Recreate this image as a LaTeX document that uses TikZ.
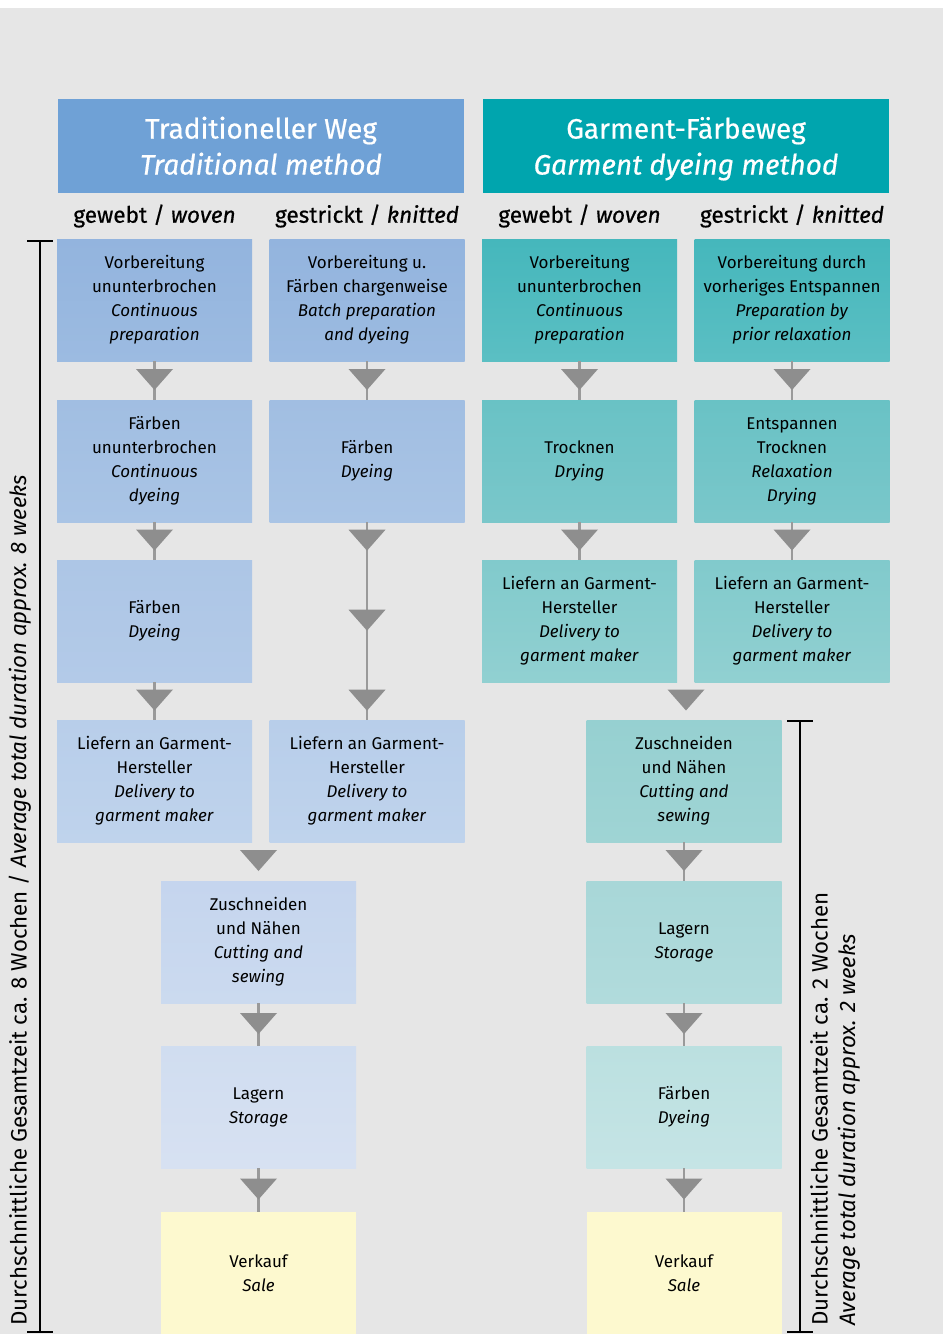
\documentclass[tikz,border=0pt]{standalone}
\usepackage{fontspec}
\setmainfont{Fira Sans}
\newfontfamily\condfont{Fira Sans}
\newfontfamily\medfont[FakeBold=0.6]{Fira Sans}
\usetikzlibrary{decorations.markings,calc}
\definecolor{bggray}{HTML}{E6E6E6}
\definecolor{hdrblue}{HTML}{6FA1D6}
\definecolor{hdrteal}{HTML}{00A5AE}
\definecolor{arrgray}{HTML}{8E8E8E}
\definecolor{linegray}{HTML}{9A9A9A}
\definecolor{Latop}{HTML}{93B4DE}\definecolor{Labot}{HTML}{9CBBE1}
\definecolor{Lbtop}{HTML}{A1BEE2}\definecolor{Lbbot}{HTML}{A9C4E5}
\definecolor{Lctop}{HTML}{ADC6E6}\definecolor{Lcbot}{HTML}{B3CAE8}
\definecolor{Ldtop}{HTML}{B8CEEA}\definecolor{Ldbot}{HTML}{BFD3EC}
\definecolor{Letop}{HTML}{C5D5EE}\definecolor{Lebot}{HTML}{CBDAEF}
\definecolor{Lftop}{HTML}{D0DDF0}\definecolor{Lfbot}{HTML}{D7E1F2}
\definecolor{Ratop}{HTML}{45B7BC}\definecolor{Rabot}{HTML}{5BBFC3}
\definecolor{Rbtop}{HTML}{69C2C5}\definecolor{Rbbot}{HTML}{7AC7CA}
\definecolor{Rctop}{HTML}{81CACC}\definecolor{Rcbot}{HTML}{91D0D1}
\definecolor{Rdtop}{HTML}{96D0D1}\definecolor{Rdbot}{HTML}{9FD4D4}
\definecolor{Retop}{HTML}{A8D7D8}\definecolor{Rebot}{HTML}{B1DBDC}
\definecolor{Rftop}{HTML}{BBE0E0}\definecolor{Rfbot}{HTML}{C5E4E5}
\definecolor{sale}{HTML}{FDF9CF}
\newcommand\arrtri{\fill[arrgray] (-11.5,-18.5) -- (-11.5,18.5) -- (9.5,0) -- cycle;}
\newcommand\hstrut{\rule{0pt}{26pt}}
\newcommand\dstrut{\rule[-9pt]{0pt}{9pt}}
\tikzset{
  box/.style={minimum width=195pt, minimum height=122pt, inner sep=0pt, align=center,
    font=\fontsize{17}{24}\selectfont, text=black},
  sh/.style 2 args={top color=#1, bottom color=#2},
  hdrtext/.style={align=center, text=white, font=\medfont\fontsize{28}{36}\selectfont, inner sep=0pt},
  sub/.style={inner sep=0pt, font=\medfont\fontsize{22.6}{28}\selectfont, text=black},
  flow/.style={draw=linegray, line width=2.3pt, postaction={decorate},
    decoration={markings, mark=at position 0.5 with {\arrtri}}},
  flowthree/.style={draw=linegray, line width=2.3pt, postaction={decorate},
    decoration={markings, mark=at position 19pt with {\arrtri},
      mark=at position 99pt with {\arrtri}, mark=at position 179pt with {\arrtri}}},
  merge/.style={postaction={decorate},
    decoration={markings, mark=at position 0.5 with {\arrtri}}},
  bracket/.style={draw=black, line width=2.6pt},
  side/.style={rotate=90, anchor=west, inner sep=0pt, font=\condfont\fontsize{22.3}{26}\selectfont}
}
\begin{document}
\begin{tikzpicture}[x=1pt,y=-1pt]
\useasboundingbox (0,0) rectangle (943,1334);
\fill[white] (0,0) rectangle (943,8);
\fill[bggray] (0,8) rectangle (943,1334);
% headers
\path[fill=hdrblue] (58,99) rectangle (464,193);
\path[fill=hdrteal] (483,99) rectangle (889,193);
\node[hdrtext] (hl) at (261,148) {\hstrut Traditioneller Weg\\\textit{Traditional method}\dstrut};
\node[hdrtext] (hr) at (686,148) {\hstrut Garment-Färbeweg\\\textit{Garment dyeing method}\dstrut};
\node[sub] (s1) at (154.5,216) {gewebt / \textit{woven}};
\node[sub] (s2) at (367,216) {gestrickt / \textit{knitted}};
\node[sub] (s3) at (579.5,216) {gewebt / \textit{woven}};
\node[sub] (s4) at (792,216) {gestrickt / \textit{knitted}};
% traditional woven
\node[box, sh={Latop}{Labot}] (a1) at (154.5,300) {Vorbereitung\\ununterbrochen\\\textit{Continuous}\\\textit{preparation}};
\node[box, sh={Lbtop}{Lbbot}] (a2) at (154.5,461) {Färben\\ununterbrochen\\\textit{Continuous}\\\textit{dyeing}};
\node[box, sh={Lctop}{Lcbot}] (a3) at (154.5,621) {Färben\\\textit{Dyeing}};
\node[box, sh={Ldtop}{Ldbot}] (a4) at (154.5,781) {Liefern an Garment-\\Hersteller\\\textit{Delivery to}\\\textit{garment maker}};
% traditional knitted
\node[box, sh={Latop}{Labot}] (b1) at (367,300) {Vorbereitung u.\\Färben chargenweise\\\textit{Batch preparation}\\\textit{and dyeing}};
\node[box, sh={Lbtop}{Lbbot}] (b2) at (367,461) {Färben\\\textit{Dyeing}};
\node[box, sh={Ldtop}{Ldbot}] (b4) at (367,781) {Liefern an Garment-\\Hersteller\\\textit{Delivery to}\\\textit{garment maker}};
% traditional common
\node[box, sh={Letop}{Lebot}] (l5) at (258.5,942) {Zuschneiden\\und Nähen\\\textit{Cutting and}\\\textit{sewing}};
\node[box, sh={Lftop}{Lfbot}] (l6) at (258.5,1107) {Lagern\\\textit{Storage}};
\node[box, fill=sale] (l7) at (258.5,1273) {Verkauf\\\textit{Sale}};
% garment woven
\node[box, sh={Ratop}{Rabot}] (c1) at (579.5,300) {Vorbereitung\\ununterbrochen\\\textit{Continuous}\\\textit{preparation}};
\node[box, sh={Rbtop}{Rbbot}] (c2) at (579.5,461) {Trocknen\\\textit{Drying}};
\node[box, sh={Rctop}{Rcbot}] (c3) at (579.5,621) {Liefern an Garment-\\Hersteller\\\textit{Delivery to}\\\textit{garment maker}};
% garment knitted
\node[box, sh={Ratop}{Rabot}] (d1) at (792,300) {Vorbereitung durch\\vorheriges Entspannen\\\textit{Preparation by}\\\textit{prior relaxation}};
\node[box, sh={Rbtop}{Rbbot}] (d2) at (792,461) {Entspannen\\Trocknen\\\textit{Relaxation}\\\textit{Drying}};
\node[box, sh={Rctop}{Rcbot}] (d3) at (792,621) {Liefern an Garment-\\Hersteller\\\textit{Delivery to}\\\textit{garment maker}};
% garment common
\node[box, sh={Rdtop}{Rdbot}] (r4) at (684,781) {Zuschneiden\\und Nähen\\\textit{Cutting and}\\\textit{sewing}};
\node[box, sh={Retop}{Rebot}] (r5) at (684,942) {Lagern\\\textit{Storage}};
\node[box, sh={Rftop}{Rfbot}] (r6) at (684,1107) {Färben\\\textit{Dyeing}};
\node[box, fill=sale] (r7) at (684,1273) {Verkauf\\\textit{Sale}};
% connectors
\draw[flow] (a1) -- (a2);
\draw[flow] (a2) -- (a3);
\draw[flow] (a3) -- (a4);
\draw[flow] (b1) -- (b2);
\draw[flowthree] (b2.south) -- (b4.north);
\path[merge] (l5.north |- a4.south) -- (l5.north);
\draw[flow] (l5) -- (l6);
\draw[flow] (l6) -- (l7);
\draw[flow] (c1) -- (c2);
\draw[flow] (c2) -- (c3);
\draw[flow] (d1) -- (d2);
\draw[flow] (d2) -- (d3);
\path[merge] ([xshift=2pt]r4.north |- c3.south) -- ([xshift=2pt]r4.north);
\draw[flow] (r4) -- (r5);
\draw[flow] (r5) -- (r6);
\draw[flow] (r6) -- (r7);
% brackets
\coordinate (lbt) at (40,241);
\coordinate (lbb) at (40,1332);
\draw[bracket] (lbt) -- (lbb);
\draw[bracket] ([xshift=-13pt]lbt) -- ([xshift=13pt]lbt);
\draw[bracket] ([xshift=-13pt]lbb) -- ([xshift=13pt]lbb);
\coordinate (rbt) at (800,721);
\coordinate (rbb) at (800,1332);
\draw[bracket] (rbt) -- (rbb);
\draw[bracket] ([xshift=-13pt]rbt) -- ([xshift=13pt]rbt);
\draw[bracket] ([xshift=-13pt]rbb) -- ([xshift=13pt]rbb);
\node[side] (lt) at (20,1326) {Durchschnittliche Gesamtzeit ca. 8 Wochen / \textit{Average total duration approx. 8 weeks}};
\node[side] (rt1) at (819,1326) {Durchschnittliche Gesamtzeit ca. 2 Wochen};
\node[side] (rt2) at (849,1326) {\textit{Average total duration approx. 2 weeks}};
\end{tikzpicture}
\end{document}
